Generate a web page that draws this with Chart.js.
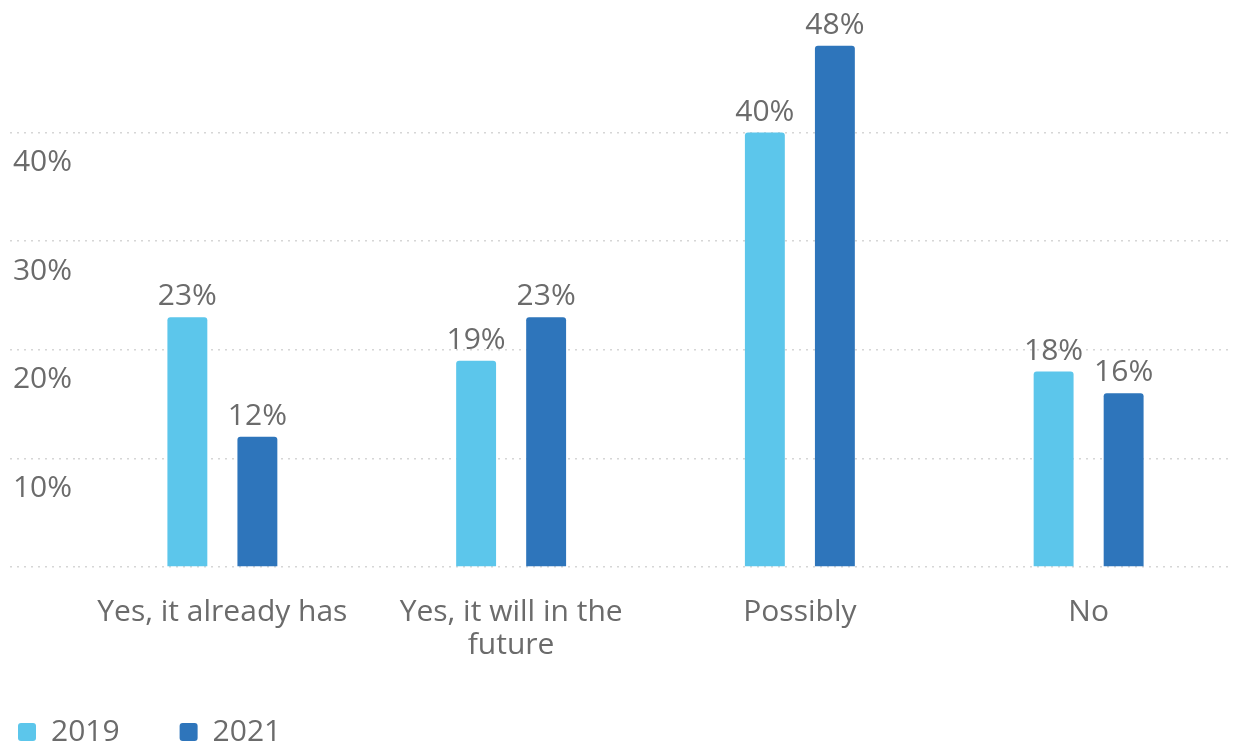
<!DOCTYPE html>
<html>
<head>
<meta charset="utf-8">
<script src="https://cdn.jsdelivr.net/npm/chart.js@4"></script>
<style>
  html, body { margin: 0; background: #fff; }
  #wrap { width: 1235px; height: 745px; }
</style>
</head>
<body>
<div id="wrap"><canvas id="myChart"></canvas></div>
<script>
const categories = [["Yes, it already has"], ["Yes, it will in the", "future"], ["Possibly"], ["No"]];
const values2019 = [23, 19, 40, 18];
const values2021 = [12, 23, 48, 16];
const yMax = 50;
const yStep = 10;

const textColor = "#6b6b6b";
const gridColor = (c) => (c.tick && c.tick.value === yMax ? "rgba(0,0,0,0)" : "#d6d6d6");

// percentage text above every bar
const valueLabels = {
  id: "valueLabels",
  afterDatasetsDraw(chart) {
    const ctx = chart.ctx;
    ctx.save();
    ctx.font = '30px "Open Sans"';
    ctx.fillStyle = textColor;
    ctx.textAlign = "center";
    ctx.textBaseline = "alphabetic";
    chart.data.datasets.forEach((ds, i) => {
      chart.getDatasetMeta(i).data.forEach((bar, j) => {
        ctx.fillText(ds.data[j] + "%", bar.x, bar.y - 12);
      });
    });
    ctx.restore();
  },
};

const ctx = document.getElementById("myChart").getContext("2d");
const myChart = new Chart(ctx, {
  type: "bar",
  data: {
    labels: categories,
    datasets: [
      {
        label: "2019",
        data: values2019,
        backgroundColor: "#5cc6eb",
        borderRadius: 3,
        borderSkipped: "bottom",
      },
      {
        label: "2021",
        data: values2021,
        backgroundColor: "#2e75bb",
        borderRadius: 3,
        borderSkipped: "bottom",
      },
    ],
  },
  options: {
    responsive: true,
    maintainAspectRatio: false,
    animation: false,
    // negative left padding lets the legend start near the edge with wide item gaps
    layout: { padding: { left: -42, right: 2, top: 24, bottom: -12 } },
    datasets: {
      bar: { categoryPercentage: 0.485, barPercentage: 0.57 },
    },
    scales: {
      x: {
        afterFit: (scale) => {
          scale.height = 90;
        },
        grid: { display: false, drawTicks: false },
        border: { display: false },
        ticks: {
          color: textColor,
          font: { family: "Open Sans", size: 30, lineHeight: 1.1 },
          padding: 29,
          maxRotation: 0,
          autoSkip: false,
        },
      },
      y: {
        min: 0,
        max: yMax,
        afterFit: (scale) => {
          scale.width = 120;
        },
        grid: {
          color: gridColor,
          tickColor: gridColor,
          tickBorderDash: [2, 5],
          tickLength: 68,
          lineWidth: 1.5,
        },
        border: { display: false, dash: [2, 5] },
        ticks: {
          stepSize: yStep,
          color: textColor,
          font: { family: "Open Sans", size: 30 },
          padding: -62,
          labelOffset: 30,
          callback: (v) => (v === 0 || v === yMax ? "" : v + "%"),
        },
      },
    },
    plugins: {
      legend: {
        position: "bottom",
        align: "start",
        labels: {
          color: textColor,
          font: { family: "Open Sans", size: 30 },
          boxWidth: 18,
          boxHeight: 18,
          useBorderRadius: true,
          borderRadius: 3,
          padding: 60,
        },
      },
      tooltip: { enabled: false },
    },
  },
  plugins: [valueLabels],
});
</script>
</body>
</html>
